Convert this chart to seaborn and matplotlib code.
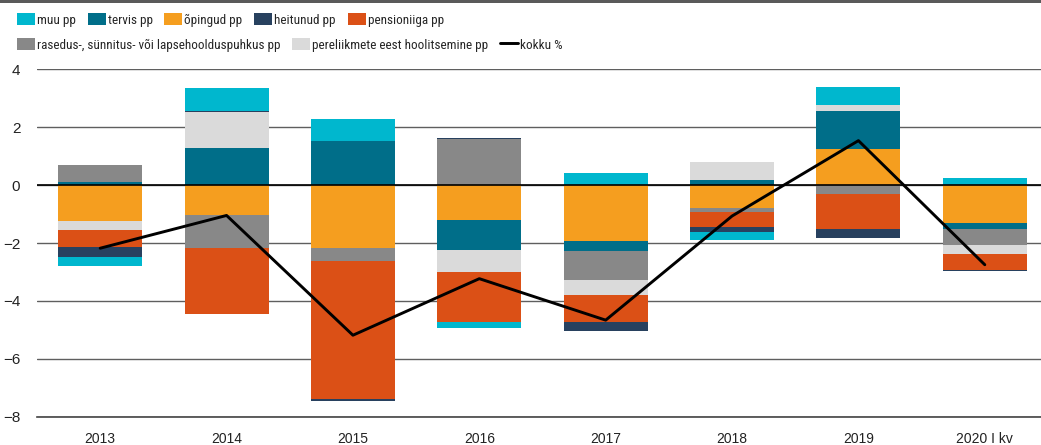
import numpy as np
import pandas as pd
import matplotlib
matplotlib.use("Agg")
import matplotlib.pyplot as plt
from matplotlib.patches import Patch, Rectangle
from matplotlib.lines import Line2D
import seaborn as sns

## Data (pp contributions)
years = ["2013", "2014", "2015", "2016", "2017", "2018", "2019", "2020 I kv"]

opingud = [-1.25, -1.03, -2.16, -1.21, -1.94, -0.79, 1.25, -1.30]
tervis = [0.10, 1.28, 1.53, -1.03, -0.34, 0.17, 1.31, -0.23]
rasedus = [0.58, -1.13, -0.47, 1.57, -1.00, -0.13, -0.32, -0.54]
pereliikmete = [-0.31, 1.23, 0.00, -0.76, -0.52, 0.62, 0.19, -0.31]
pensioniiga = [-0.59, -2.29, -4.76, -1.74, -0.94, -0.54, -1.20, -0.56]
heitunud = [-0.33, 0.04, -0.05, 0.05, -0.29, -0.16, -0.32, -0.04]
muu = [-0.31, 0.79, 0.75, -0.19, 0.41, -0.29, 0.64, 0.24]
kokku = [-2.18, -1.05, -5.18, -3.23, -4.66, -1.07, 1.53, -2.75]

series = {
    "õpingud pp": opingud,
    "tervis pp": tervis,
    "rasedus-, sünnitus- või lapsehoolduspuhkus pp": rasedus,
    "pereliikmete eest hoolitsemine pp": pereliikmete,
    "pensioniiga pp": pensioniiga,
    "heitunud pp": heitunud,
    "muu pp": muu,
}

colors = {
    "muu pp": "#00B7CE",
    "tervis pp": "#006E89",
    "õpingud pp": "#F59E1F",
    "heitunud pp": "#28415F",
    "pensioniiga pp": "#DB5016",
    "rasedus-, sünnitus- või lapsehoolduspuhkus pp": "#888888",
    "pereliikmete eest hoolitsemine pp": "#DADADA",
}

sns.set_style("white")
plt.rcParams["font.family"] = ["Liberation Sans", "DejaVu Sans"]

df = pd.DataFrame(series, index=years)
stack_order = list(series.keys())
pos = df[stack_order].clip(lower=0).cumsum(axis=1)
neg = df[stack_order].clip(upper=0).cumsum(axis=1)

fig = plt.figure(figsize=(10.41, 4.45), dpi=100)
ax = fig.add_axes([37 / 1041, 28 / 445, 1011 / 1041, 348 / 445])

# stacked diverging bars: draw cumulative totals from the outermost layer inwards
for name in reversed(stack_order):
    for cum in (pos, neg):
        sns.barplot(x=years, y=cum[name].values, order=years, color=colors[name],
                    saturation=1, width=0.665, linewidth=0, errorbar=None, ax=ax,
                    zorder=2)

sns.lineplot(x=years, y=kokku, sort=False, color="black", lw=2.1, ax=ax, zorder=4)

ax.set_xlim(-0.5, 7.5)
ax.set_ylim(-8, 4)
ax.set_yticks(np.arange(-8, 5, 2))
ax.set_xticks(np.arange(-0.5, 8, 1), minor=True)
ax.set_xlabel("")
ax.set_ylabel("")

ax.set_axisbelow(True)
ax.yaxis.grid(True, color="#5f5f5f", lw=1)
ax.axhline(0, color="black", lw=1.2, zorder=3)

for s in ["top", "right", "left"]:
    ax.spines[s].set_visible(False)
ax.spines["bottom"].set_color("#444444")
ax.spines["bottom"].set_linewidth(1.2)

ax.tick_params(axis="y", length=0, pad=12, labelsize=11, labelcolor="#222222")
ax.tick_params(axis="x", which="major", length=0, pad=11, labelsize=10, labelcolor="#222222")
ax.tick_params(axis="x", which="minor", direction="in", length=5.5, width=1.1, color="#444444")
for lab in ax.get_yticklabels():
    lab.set_horizontalalignment("right")

# dark band along the top edge
fig.add_artist(Rectangle((0, 1 - 3 / 445), 1, 3 / 445, transform=fig.transFigure,
                         color="#5a5a5a", lw=0))

# legend in two rows
leg_font = {"family": ["Roboto Condensed", "Liberation Sans", "DejaVu Sans"], "size": 9.5}
row1 = ["muu pp", "tervis pp", "õpingud pp", "heitunud pp", "pensioniiga pp"]
row2 = ["rasedus-, sünnitus- või lapsehoolduspuhkus pp", "pereliikmete eest hoolitsemine pp"]

h1 = [Patch(facecolor=colors[n], edgecolor="none", label=n) for n in row1]
h2 = [Patch(facecolor=colors[n], edgecolor="none", label=n) for n in row2]
h2.append(Line2D([0], [0], color="black", lw=2.1, label="kokku %"))

leg_kw = dict(frameon=False, prop=leg_font, borderpad=0, borderaxespad=0,
              handlelength=1.36, handleheight=1.0, handletextpad=0.15, columnspacing=0.9)
leg1 = fig.legend(handles=h1, loc="center left", bbox_to_anchor=(17 / 1041, 1 - 20 / 445),
                  ncol=5, **leg_kw)
leg2 = fig.legend(handles=h2, loc="center left", bbox_to_anchor=(17 / 1041, 1 - 45 / 445),
                  ncol=3, **leg_kw)

fig.savefig("out.png", dpi=100)
plt.close()
